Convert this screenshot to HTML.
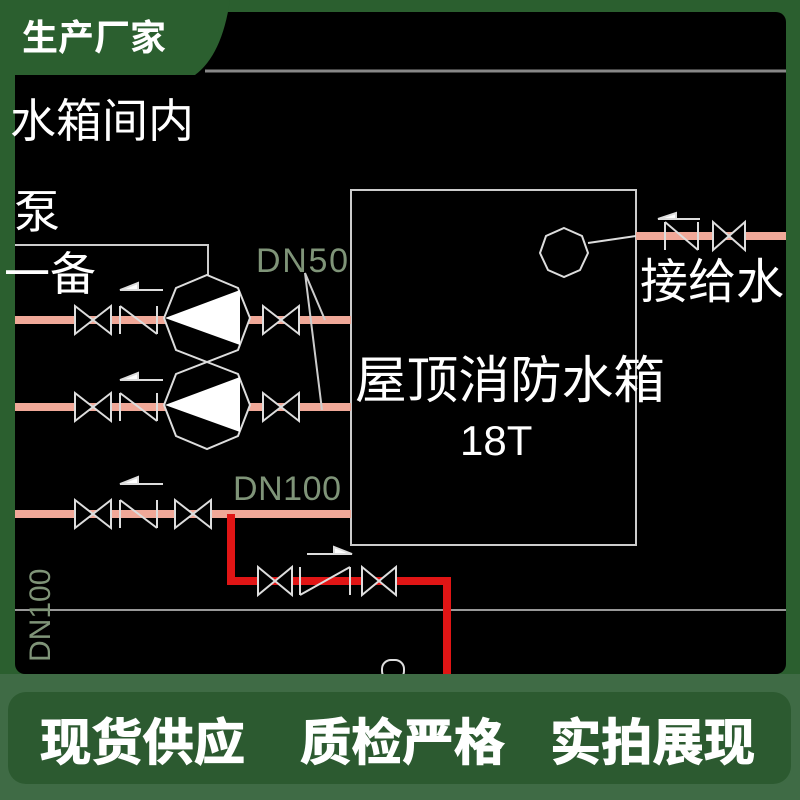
<!DOCTYPE html>
<html><head><meta charset="utf-8"><style>
html,body{margin:0;padding:0;background:#2b5f2f;}
svg{display:block}
text{font-family:"Liberation Sans","Noto Sans CJK SC",sans-serif;}
</style></head><body>
<svg width="800" height="800" viewBox="0 0 800 800" xmlns="http://www.w3.org/2000/svg">
<rect x="0" y="0" width="800" height="800" fill="#2b5f2f"/>
<rect x="15" y="12" width="771" height="662" rx="10" fill="#000"/>
<path d="M0,0 H230 Q222,55 195,75 H0 Z" fill="#2b5f2f"/>
<text x="22" y="50" font-size="36" font-weight="bold" fill="#fff">生产厂家</text>
<line x1="205" y1="71" x2="786" y2="71" stroke="#888" stroke-width="3"/>
<line x1="15" y1="610" x2="786" y2="610" stroke="#999" stroke-width="2"/>
<text x="10" y="137" font-size="46" fill="#fff">水箱间内</text>
<text x="14" y="228" font-size="46" fill="#fff">泵</text>
<text x="4" y="290" font-size="46" fill="#fff">一备</text>
<rect x="351" y="190" width="285" height="355" fill="none" stroke="#ccc" stroke-width="2"/>
<text x="355" y="398" font-size="51" fill="#fff" textLength="310" lengthAdjust="spacingAndGlyphs">屋顶消防水箱</text>
<text x="460" y="455" font-size="42" fill="#fff">18T</text>
<text x="256" y="272" font-size="34" fill="#7f9478" textLength="92">DN50</text>
<text x="233" y="500" font-size="34" fill="#7f9478" textLength="108">DN100</text>
<text transform="translate(50,662) rotate(-90)" font-size="30" fill="#7f9478">DN100</text>
<g fill="#f0a898">
<rect x="15" y="316" width="336" height="8"/>
<rect x="15" y="403" width="336" height="8"/>
<rect x="15" y="510" width="336" height="8"/>
<rect x="636" y="232" width="150" height="8"/>
</g>
<path d="M231,514 V581 H447 V674" fill="none" stroke="#e01515" stroke-width="8"/>
<polyline points="15,245 208,245 208,380" fill="none" stroke="#ccc" stroke-width="2"/>
<polyline points="322,410 305,273 325,320" fill="none" stroke="#ccc" stroke-width="2"/>
<g stroke="#ddd" stroke-width="2" fill="#000">
<path d="M75,306 L111,334 L111,306 L75,334 Z"/>
<path d="M75,393 L111,421 L111,393 L75,421 Z"/>
<path d="M75,500 L111,528 L111,500 L75,528 Z"/>
<path d="M263,306 L299,334 L299,306 L263,334 Z"/>
<path d="M263,393 L299,421 L299,393 L263,421 Z"/>
<path d="M175,500 L211,528 L211,500 L175,528 Z"/>
<path d="M120,306 V334 M120,306 L157,334 M157,306 V334" fill="none"/>
<path d="M120,393 V421 M120,393 L157,421 M157,393 V421" fill="none"/>
<path d="M120,500 V528 M120,500 L157,528 M157,500 V528" fill="none"/>
<path d="M125,290 H163" fill="none"/><path d="M120,290 L138,283 L138,290 Z" fill="#fff"/>
<path d="M125,380 H163" fill="none"/><path d="M120,380 L138,373 L138,380 Z" fill="#fff"/>
<path d="M125,484 H163" fill="none"/><path d="M120,484 L138,477 L138,484 Z" fill="#fff"/>
<polygon points="207,275 238,288 250,318 238,350 207,362 176,350 164,318 176,288" fill="#000"/>
<polygon points="207,362 238,374 250,405 238,436 207,449 176,436 164,405 176,374" fill="#000"/>
<path d="M258,567 L292,595 L292,567 L258,595 Z"/>
<path d="M362,567 L396,595 L396,567 L362,595 Z"/>
<path d="M300,567 V595 M300,595 L350,567 M350,567 V595" fill="none"/>
<path d="M307,554 H350" fill="none"/><path d="M352,554 L334,547 L334,554 Z" fill="#fff"/>
<path d="M665,222 V250 M665,222 L698,250 M698,222 V250" fill="none"/>
<path d="M713,222 L745,250 L745,222 L713,250 Z"/>
<path d="M660,219 H700" fill="none"/><path d="M658,219 L676,213 L676,219 Z" fill="#fff"/>
<polygon points="564,228 582,236 588,253 580,270 564,277 548,270 540,253 546,236" fill="#000"/>
<line x1="588" y1="243" x2="636" y2="236"/>
<rect x="382" y="660" width="22" height="20" rx="9" fill="#000"/>
</g>
<polygon points="165,318 240,290 240,345" fill="#fff"/>
<polygon points="165,405 240,377 240,432" fill="#fff"/>
<text x="640" y="298" font-size="48" fill="#fff">接给水</text>
<rect x="786" y="0" width="14" height="674" fill="#2b5f2f"/>
<rect x="0" y="674" width="800" height="126" fill="#3f6b45"/>
<rect x="8" y="692" width="783" height="92" rx="18" fill="#2c5a30"/>
<g font-size="50" font-weight="bold" fill="#fff" stroke="#fff" stroke-width="1">
<text x="40" y="760" textLength="205" lengthAdjust="spacingAndGlyphs">现货供应</text>
<text x="300" y="760" textLength="205" lengthAdjust="spacingAndGlyphs">质检严格</text>
<text x="550" y="760" textLength="205" lengthAdjust="spacingAndGlyphs">实拍展现</text>
</g>
</svg>
</body></html>
